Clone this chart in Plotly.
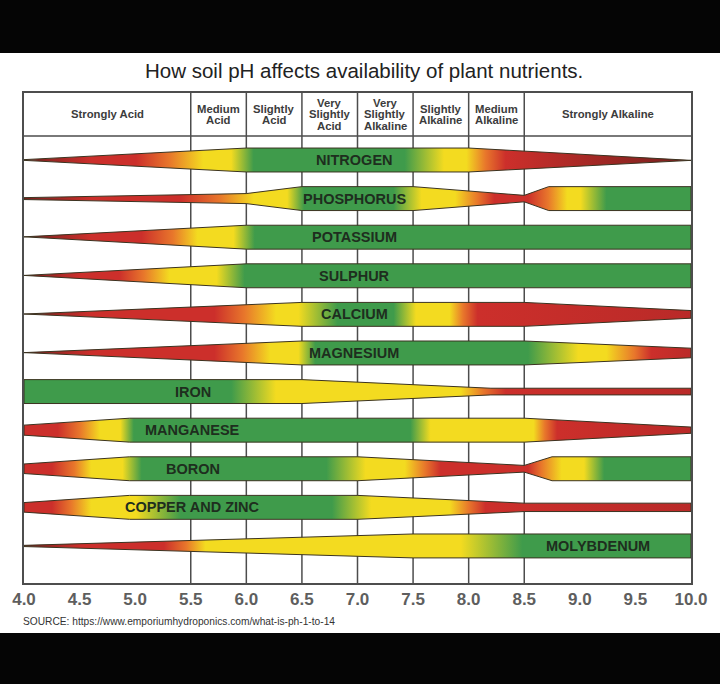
import plotly.graph_objects as go

# ---------------- data ----------------
nutrients = ["NITROGEN", "PHOSPHORUS", "POTASSIUM", "SULPHUR", "CALCIUM", "MAGNESIUM",
             "IRON", "MANGANESE", "BORON", "COPPER AND ZINC", "MOLYBDENUM"]
label_ph = [6.97, 6.97, 6.97, 6.97, 6.97, 6.97, 5.52, 5.52, 5.52, 5.52, 9.16]

ph_ticks = [4.0, 4.5, 5.0, 5.5, 6.0, 6.5, 7.0, 7.5, 8.0, 8.5, 9.0, 9.5, 10.0]
ph_tick_text = ["4.0", "4.5", "5.0", "5.5", "6.0", "6.5", "7.0", "7.5", "8.0", "8.5", "9.0", "9.5", "10.0"]
class_bounds = [4.0, 5.5, 6.0, 6.5, 7.0, 7.5, 8.0, 8.5, 10.0]
class_labels = [["Strongly Acid"], ["Medium", "Acid"], ["Slightly", "Acid"], ["Very", "Slightly", "Acid"],
                ["Very", "Slightly", "Alkaline"], ["Slightly", "Alkaline"], ["Medium", "Alkaline"],
                ["Strongly Alkaline"]]

DR, R, O, Y, G = "#74201d", "#cc2f2b", "#e8772b", "#f3db20", "#3f9b4b"
R2 = "#b92a28"

# relative band width along pH  (pH, width 0..1)
nitrogen_w = [(4.0, 0.03), (6.0, 1), (8.0, 1), (10.0, 0.03)]
phosphorus_w = [(4.0, 0.08), (6.0, 0.42), (6.5, 1), (7.5, 1), (8.5, 0.27), (8.72, 1), (10.0, 1)]
potassium_w = [(4.0, 0.03), (6.0, 1), (10.0, 1)]
sulphur_w = [(4.0, 0.03), (6.0, 1), (10.0, 1)]
calcium_w = [(4.0, 0.03), (6.5, 1), (8.5, 1), (10.0, 0.32)]
magnesium_w = [(4.0, 0.03), (6.5, 1), (8.5, 1), (10.0, 0.4)]
iron_w = [(4.0, 1), (6.5, 1), (8.2, 0.28), (10.0, 0.28)]
manganese_w = [(4.0, 0.42), (4.95, 1), (8.5, 1), (10.0, 0.26)]
boron_w = [(4.0, 0.4), (4.95, 1), (7.0, 1), (8.5, 0.28), (8.75, 1), (10.0, 1)]
copper_w = [(4.0, 0.4), (4.95, 1), (7.0, 1), (8.5, 0.35), (10.0, 0.35)]
molybdenum_w = [(4.0, 0.05), (7.5, 1), (10.0, 1)]

# colour along pH  (pH, colour)
nitrogen_c = [(4.0, DR), (4.6, R), (5.0, R), (5.3, O), (5.6, Y), (5.85, Y), (6.05, G), (7.4, G),
              (7.75, Y), (7.95, Y), (8.12, O), (8.3, R), (10.0, DR)]
phosphorus_c = [(4.0, DR), (4.6, R), (5.4, R), (5.75, O), (6.05, Y), (6.35, Y), (6.5, G), (7.3, G),
                (7.55, Y), (7.85, Y), (8.05, O), (8.2, R), (8.5, R), (8.68, O), (8.85, Y), (8.97, Y),
                (9.2, G), (10.0, G)]
potassium_c = [(4.0, DR), (4.6, R), (5.05, R), (5.33, O), (5.55, Y), (5.87, Y), (6.06, G), (10.0, G)]
sulphur_c = [(4.0, DR), (4.5, R), (4.85, R), (5.07, O), (5.3, Y), (5.72, Y), (5.97, G), (10.0, G)]
calcium_c = [(4.0, DR), (4.6, R), (5.7, R), (5.97, O), (6.25, Y), (6.45, Y), (6.8, G), (7.3, G),
             (7.5, Y), (7.8, Y), (7.92, O), (8.05, R), (10.0, R2)]
magnesium_c = [(4.0, DR), (4.6, R), (5.7, R), (5.95, O), (6.2, Y), (6.45, Y), (6.6, G), (8.5, G),
               (8.95, Y), (9.2, Y), (9.45, O), (9.6, R), (10.0, R2)]
iron_c = [(4.0, G), (5.85, G), (6.25, Y), (7.9, Y), (8.1, O), (8.3, R), (10.0, R2)]
manganese_c = [(4.0, R), (4.3, R), (4.5, O), (4.68, Y), (4.86, Y), (4.98, G), (7.45, G), (7.63, Y),
               (8.55, Y), (8.65, O), (8.76, R), (10.0, R2)]
boron_c = [(4.0, R), (4.25, R), (4.45, O), (4.6, Y), (4.88, Y), (5.05, G), (6.7, G), (7.05, Y),
           (7.4, Y), (7.58, O), (7.72, R), (8.5, R), (8.62, O), (8.8, Y), (9.0, Y), (9.18, G), (10.0, G)]
copper_c = [(4.0, R), (4.25, R), (4.42, O), (4.6, Y), (5.0, Y), (5.4, G), (6.75, G), (7.1, Y),
            (7.8, Y), (7.97, O), (8.12, R), (10.0, R2)]
molybdenum_c = [(4.0, DR), (4.5, R), (5.25, R), (5.45, O), (5.62, Y), (7.9, Y), (8.45, G), (10.0, G)]

widths = [nitrogen_w, phosphorus_w, potassium_w, sulphur_w, calcium_w, magnesium_w,
          iron_w, manganese_w, boron_w, copper_w, molybdenum_w]
colours = [nitrogen_c, phosphorus_c, potassium_c, sulphur_c, calcium_c, magnesium_c,
           iron_c, manganese_c, boron_c, copper_c, molybdenum_c]

# ---------------- figure ----------------
HW = 0.31           # half thickness of a full band (row units)
Y_TOP, Y_BOT = -1.736, 10.96
HEADER_BOTTOM = -0.62
X0, X1 = 4.0, 10.0
ML, MR = 23, 25
PW = 720 - ML - MR

fig = go.Figure()

for i, (name, wprof, cprof) in enumerate(zip(nutrients, widths, colours)):
    xs = [p for p, _ in wprof]
    top = [i - HW * w for _, w in wprof]
    bot = [i + HW * w for _, w in wprof]
    px = xs + xs[::-1] + [xs[0]]
    py = top + bot[::-1] + [top[0]]
    cs = [[(p - X0) / (X1 - X0), c] for p, c in cprof]
    fig.add_trace(go.Scatter(
        x=px, y=py, mode="lines", fill="toself",
        fillgradient=dict(type="horizontal", start=X0, stop=X1, colorscale=cs),
        line=dict(color="#3b3320", width=1),
        hoverinfo="skip", showlegend=False))
    fig.add_annotation(x=label_ph[i], y=i, text="<b>%s</b>" % name, showarrow=False,
                       font=dict(family="Liberation Sans, Arial", size=14.5, color="#1e2e1e"),
                       xanchor="center", yanchor="middle")

# header class labels
line_gap = 0.303
for k, lines in enumerate(class_labels):
    xc = (class_bounds[k] + class_bounds[k + 1]) / 2
    n = len(lines)
    for j, t in enumerate(lines):
        yc = -1.18 + (j - (n - 1) / 2) * line_gap
        fig.add_annotation(x=xc, y=yc, text="<b>%s</b>" % t, showarrow=False,
                           font=dict(family="Liberation Sans, Arial", size=11.3, color="#3c3c3c"),
                           xanchor="center", yanchor="middle")

shapes = []
for b in class_bounds[1:-1]:
    shapes.append(dict(type="line", xref="x", yref="y", x0=b, x1=b, y0=Y_TOP, y1=Y_BOT,
                       line=dict(color="#4d4d4d", width=1.5), layer="below"))
shapes.append(dict(type="line", xref="x", yref="y", x0=X0, x1=X1, y0=HEADER_BOTTOM, y1=HEADER_BOTTOM,
                   line=dict(color="#4d4d4d", width=1.5), layer="below"))
# black photo borders
shapes.append(dict(type="rect", xref="paper", yref="paper", x0=-0.1, x1=1.2,
                   y0=(583 - 53) / 490, y1=1.3, fillcolor="#050505", line=dict(width=0), layer="above"))
shapes.append(dict(type="rect", xref="paper", yref="paper", x0=-0.1, x1=1.2,
                   y0=-0.3, y1=(583 - 633) / 490, fillcolor="#050505", line=dict(width=0), layer="above"))

fig.add_annotation(xref="paper", yref="paper", x=(366 - ML) / PW, y=(583 - 71) / 490,
                   text="How soil pH affects availability of plant nutrients.", showarrow=False,
                   font=dict(family="Liberation Sans, Arial", size=20.5, color="#222222"),
                   xanchor="center", yanchor="middle")
fig.add_annotation(xref="paper", yref="paper", x=(20 - ML) / PW, y=(583 - 621) / 490,
                   text="SOURCE: https://www.emporiumhydroponics.com/what-is-ph-1-to-14", showarrow=False,
                   font=dict(family="Liberation Sans, Arial", size=10.2, color="#333333"),
                   xanchor="left", yanchor="middle")

fig.update_layout(
    width=720, height=684,
    margin=dict(l=ML, r=MR, t=93, b=101),
    paper_bgcolor="white", plot_bgcolor="white",
    shapes=shapes,
    xaxis=dict(range=[X0, X1], tickvals=ph_ticks, ticktext=ph_tick_text, showgrid=False, zeroline=False,
               showline=True, mirror=True, linecolor="#4d4d4d", linewidth=1.5, ticks="",
               tickfont=dict(family="Liberation Sans, Arial", size=17, color="#5e5e5e", weight="bold"),
               fixedrange=True),
    yaxis=dict(range=[Y_BOT, Y_TOP], showgrid=False, zeroline=False, showticklabels=False,
               showline=True, mirror=True, linecolor="#4d4d4d", linewidth=1.5, ticks="",
               fixedrange=True),
)

fig.write_html("out.html", config={"displayModeBar": False},
               post_script="document.body.style.margin='0px';")
